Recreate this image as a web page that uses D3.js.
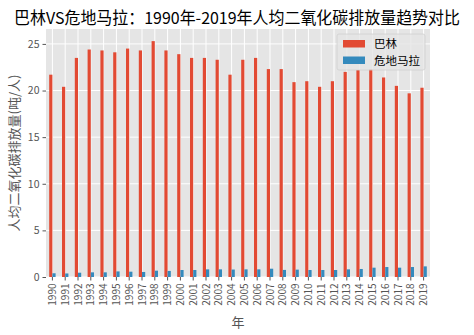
<!DOCTYPE html>
<html><head><meta charset="utf-8">
<script src="https://cdn.jsdelivr.net/npm/d3@7"></script>
<style>html,body{margin:0;padding:0;background:#fff;} svg{display:block;}</style>
</head><body>
<svg id="chart" width="474" height="335"></svg>
<script>
const years = ["1990","1991","1992","1993","1994","1995","1996","1997","1998","1999","2000","2001","2002","2003","2004","2005","2006","2007","2008","2009","2010","2011","2012","2013","2014","2015","2016","2017","2018","2019"];
const seriesNames = ["巴林","危地马拉"];
const bahrain = [21.7,20.4,23.5,24.4,24.3,24.1,24.5,24.3,25.3,24.3,23.9,23.5,23.5,23.3,21.7,23.3,23.5,22.3,22.3,20.9,21.0,20.4,21.0,22.0,22.2,22.3,21.4,20.5,19.7,20.3];
const guatemala = [0.40,0.38,0.46,0.50,0.50,0.60,0.57,0.54,0.68,0.65,0.75,0.75,0.82,0.82,0.80,0.82,0.82,0.89,0.76,0.79,0.75,0.75,0.75,0.82,0.86,1.00,1.07,1.00,1.07,1.14];
const yTicks = [0,5,10,15,20,25];
const colors = ["#E24A33","#348ABD"];
const titleText = "巴林VS危地马拉：1990年-2019年人均二氧化碳排放量趋势对比";
const xLabel = "年";
const yLabel = "人均二氧化碳排放量(吨/人)";

const font = "'Noto Sans CJK SC','Noto Sans',sans-serif";
const svg = d3.select("#chart");
const L = 46, R = 430, T = 29, B = 277;
const x = d3.scaleBand().domain(years).range([L, R]).paddingInner(0.5).paddingOuter(0.25);
const xs = d3.scaleBand().domain(seriesNames).range([0, x.bandwidth()]);
const y = d3.scaleLinear().domain([0, 26.6]).range([B, T]);

svg.append("rect").attr("x", L).attr("y", T).attr("width", R - L).attr("height", B - T).attr("fill", "#E5E5E5");

// grid
const g = svg.append("g");
g.selectAll(".hg").data(yTicks).enter().append("line")
  .attr("x1", L).attr("x2", R).attr("y1", d => y(d)).attr("y2", d => y(d))
  .attr("stroke", "#fff").attr("stroke-width", 1);
g.selectAll(".vg").data(years).enter().append("line")
  .attr("y1", T).attr("y2", B)
  .attr("x1", d => x(d) + x.bandwidth() / 2).attr("x2", d => x(d) + x.bandwidth() / 2)
  .attr("stroke", "#fff").attr("stroke-width", 1);

// bars
const data = [bahrain, guatemala];
data.forEach((vals, si) => {
  svg.append("g").selectAll("rect").data(vals).enter().append("rect")
    .attr("x", (d, i) => x(years[i]) + xs(seriesNames[si]))
    .attr("width", xs.bandwidth())
    .attr("y", d => y(d))
    .attr("height", d => y(0) - y(d))
    .attr("fill", colors[si]);
});

// axes
const yAxis = d3.axisLeft(y).tickValues(yTicks).tickSize(3.5).tickPadding(3);
const ya = svg.append("g").attr("transform", `translate(${L},0)`).call(yAxis);
ya.select(".domain").remove();
ya.selectAll("line").attr("stroke", "#555");
ya.selectAll("text").attr("fill", "#555").style("font-family", font).style("font-size", "10.5px");

const xAxis = d3.axisBottom(x).tickSize(3.5).tickPadding(3);
const xa = svg.append("g").attr("transform", `translate(0,${B})`).call(xAxis);
xa.select(".domain").remove();
xa.selectAll("line").attr("stroke", "#555");
xa.selectAll("text").attr("fill", "#555").style("font-family", font).style("font-size", "10px")
  .attr("transform", "rotate(-90)").attr("text-anchor", "end")
  .attr("x", -6.5).attr("y", 0).attr("dy", "0.35em");

// labels
svg.append("text").attr("x", 237).attr("y", 24).attr("text-anchor", "middle")
  .style("font-family", font).style("font-size", "16.5px").attr("fill", "#000")
  .attr("textLength", 446).attr("lengthAdjust", "spacingAndGlyphs").text(titleText);
svg.append("text").attr("x", (L + R) / 2).attr("y", 327).attr("text-anchor", "middle")
  .style("font-family", font).style("font-size", "13px").attr("fill", "#555").text(xLabel);
svg.append("text").attr("transform", `translate(19,${(T + B) / 2}) rotate(-90)`).attr("text-anchor", "middle")
  .style("font-family", font).style("font-size", "13px").attr("fill", "#555").text(yLabel);

// legend
const lg = svg.append("g");
lg.append("rect").attr("x", 337).attr("y", 34).attr("width", 88).attr("height", 36).attr("rx", 2)
  .attr("fill", "#E5E5E5").attr("fill-opacity", 0.8).attr("stroke", "#d0d0d0").attr("stroke-width", 0.8);
seriesNames.forEach((n, i) => {
  lg.append("rect").attr("x", 343).attr("y", 40 + i * 16.5).attr("width", 22).attr("height", 7.5).attr("fill", colors[i]);
  lg.append("text").attr("x", 374).attr("y", 44 + i * 16.5).attr("dy", "0.35em")
    .style("font-family", font).style("font-size", "11.5px").attr("fill", "#000").text(n);
});
</script>
</body></html>
